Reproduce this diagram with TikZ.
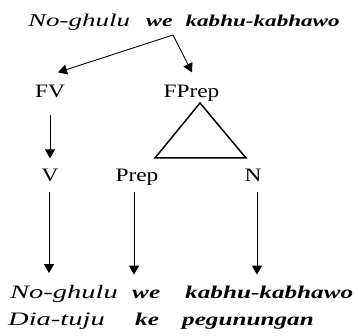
\documentclass[tikz,border=0pt]{standalone}
\usepackage{fontspec}
\setmainfont{Liberation Serif}
\newfontfamily\labfont{Liberation Serif}[FakeStretch=1.23]
\newfontfamily\itfont{Liberation Serif}[FakeStretch=1.5]
\newfontfamily\bifont{Liberation Serif}[FakeStretch=1.4]
\usetikzlibrary{arrows.meta}
\begin{document}
\begin{tikzpicture}[x=1pt,y=1pt,
  lab/.style={inner sep=0pt, anchor=base, font=\labfont\fontsize{19}{19}\selectfont},
  word/.style={inner sep=0pt, anchor=base west},
  itw/.style={word, font=\itfont\itshape\fontsize{19}{19}\selectfont},
  biw/.style={word, font=\bifont\bfseries\itshape\fontsize{18}{18}\selectfont},
  arr/.style={line width=0.9pt, -{Triangle[length=9pt,width=10pt]}},
]
\useasboundingbox (0,0) rectangle (358,-336);
% top sentence
\node[word] (top) at (28,-27)
  {{\itfont\itshape\fontsize{18}{18}\selectfont No-ghulu}\hspace{16pt}{\bifont\bfseries\itshape\fontsize{17}{17}\selectfont we}\hspace{13pt}{\bifont\bfseries\itshape\fontsize{16.5}{16.5}\selectfont kabhu-kabhawo}};
% category labels
\node[lab] (FV) at (50,-98) {FV};
\node[lab] (FPrep) at (191.5,-98) {FPrep};
\node[lab] (V) at (50,-182) {V};
\node[lab] (Prep) at (137,-182) {Prep};
\node[lab] (N) at (253,-182) {N};
% bottom rows
\node[itw] (w1) at (10,-298) {No-ghulu};
\node[biw] (w2) at (132,-298) {we};
\node[biw] (w3) at (185,-298) {kabhu-kabhawo};
\node[itw] (g1) at (8,-325) {Dia-tuju};
\node[biw] (g2) at (135,-325) {ke};
\node[biw] (g3) at (182,-325) {pegunungan};
% arrows from sentence
\coordinate (split) at (173,-35);
\draw[arr] (split) -- ([xshift=8pt,yshift=13pt]FV.north);
\draw[arr] (split) -- ([xshift=0.5pt,yshift=13pt]FPrep.north);
% triangle
\coordinate (apex) at (200,-103);
\coordinate (tl) at (155,-158);
\coordinate (tr) at (246,-158);
\draw[line width=1.5pt, line join=miter] (apex) -- (tl) -- (tr) -- cycle;
% FV -> V
\draw[arr, shorten <=17pt, shorten >=11pt] (FV.south) -- (V.north);
% to words
\draw[arr, shorten <=10pt, shorten >=11.5pt] ([xshift=-1pt]V.south) -- ([xshift=-1pt]V.south |- w1.north);
\draw[arr, shorten <=6pt, shorten >=14.7pt] ([xshift=-3pt]Prep.south) -- ([xshift=-3pt]Prep.south |- w2.north);
\draw[arr, shorten <=10pt, shorten >=10.7pt] ([xshift=4pt]N.south) -- ([xshift=4pt]N.south |- w3.north);
\end{tikzpicture}
\end{document}
